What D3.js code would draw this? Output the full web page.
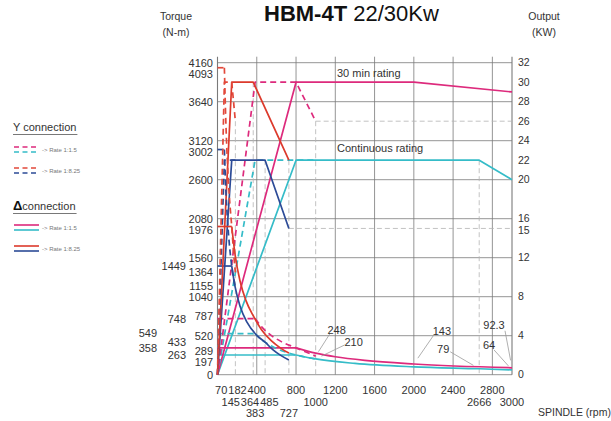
<!DOCTYPE html>
<html>
<head>
<meta charset="utf-8">
<script src="https://cdn.jsdelivr.net/npm/d3@7"></script>
<style>
  html, body { margin: 0; padding: 0; background: #fff; }
  svg { display: block; font-family: "Liberation Sans", Arial, sans-serif; }
</style>
</head>
<body>
<svg id="chart" width="611" height="421"></svg>
<script>
// ---- axis values ----
const rpmGrid = [0, 400, 800, 1200, 1600, 2000, 2400, 2800, 3000];
const torqueGrid = [0, 520, 1040, 1560, 2080, 2600, 3120, 3640, 4160];
const torqueLabels = [4160, 4093, 3640, 3120, 3002, 2600, 2080, 1976, 1560, 1364, 1155, 1040, 787, 520, 289, 197, 0];
const torqueLabelsInner = [1449, 748, 433, 263];
const torqueLabelsOuter = [549, 358];
const powerLabels = [32, 30, 28, 26, 24, 22, 20, 16, 15, 12, 8, 4, 0];
const rpmLabelsRow1 = [70, 182, 400, 800, 1200, 1600, 2000, 2400, 2800];
const rpmLabelsRow2 = [145, 364, 485, 1000, 2666, 3000];
const rpmLabelsRow3 = [383, 727];

// ---- output power (kW) vs spindle speed (rpm) ----
const pDelta15_30 = [[0, 0], [800, 30], [2000, 30], [3000, 29]];
const pDelta15_S1 = [[0, 0], [800, 22], [2666, 22], [3000, 20]];
const pY15_30 = [[0, 0], [383, 30], [800, 30], [1000, 26]];
const pY15_S1 = [[0, 0], [383, 22], [1000, 22]];
const pDelta825_30 = [[0, 0], [145, 30], [364, 30], [727, 22]];
const pDelta825_S1 = [[0, 0], [145, 22], [485, 22], [727, 15]];
const pY825_30 = [[0, 0], [70, 30], [145, 30], [182, 26]];
const pY825_S1 = [[0, 0], [70, 22], [182, 22]];

// ---- torque (N-m) vs spindle speed (rpm) ----
const tDelta15_30 = [[0, 358], [800, 358], [1000, 287], [1200, 239], [1500, 191], [2000, 143], [3000, 92.3]];
const tDelta15_S1 = [[0, 263], [800, 263], [1000, 210], [1400, 150], [2000, 105], [2666, 79], [3000, 64]];
const tY15_30 = [[0, 748], [383, 748], [450, 637], [550, 521], [650, 441], [800, 358], [1000, 248]];
const tY15_S1 = [[0, 549], [383, 549], [450, 467], [550, 382], [700, 300], [850, 247], [1000, 210]];
const tDelta825_30 = [[0, 1976], [145, 1976], [180, 1592], [230, 1246], [290, 988], [364, 787], [450, 596], [550, 450], [650, 348], [727, 289]];
const tDelta825_S1 = [[0, 1449], [145, 1449], [180, 1167], [230, 913], [300, 700], [400, 525], [485, 433], [560, 338], [640, 261], [727, 197]];
const tY825_30 = [[0, 4093], [70, 4093], [85, 3370], [100, 2865], [120, 2387], [145, 1976], [165, 1611], [182, 1364]];
const tY825_S1 = [[0, 3002], [70, 3002], [85, 2472], [100, 2101], [125, 1681], [150, 1401], [182, 1155]];

// reference (dashed) lines: [rpm, kW] verticals, [kW, from rpm] horizontals
const refVertical = [[182, 26], [364, 30], [485, 22], [727, 22], [1000, 26], [2666, 22]];
const refHorizontal = [[26, 1000], [15, 727]];

// value call-outs on the torque curves
const callouts = [
  { text: "248", rpm: 1000, torque: 248 },
  { text: "210", rpm: 1000, torque: 210 },
  { text: "143", rpm: 2000, torque: 143 },
  { text: "79", rpm: 2666, torque: 79 },
  { text: "92.3", rpm: 3000, torque: 92.3 },
  { text: "64", rpm: 3000, torque: 64 }
];

// ---- colours ----
const C = {
  magenta: "#dd2a7c",
  cyan: "#35bcc8",
  red: "#dc3a2c",
  redDash: "#e2483a",
  blue: "#2c4b97",
  grid: "#7a7a7a",
  ref: "#b4b4b4",
  text: "#333"
};

const series = [
  { power: pDelta15_S1, torque: tDelta15_S1, color: C.cyan, dashed: false },
  { power: pDelta15_30, torque: tDelta15_30, color: C.magenta, dashed: false },
  { power: pY15_S1, torque: tY15_S1, color: C.cyan, dashed: true },
  { power: pY15_30, torque: tY15_30, color: C.magenta, dashed: true },
  { power: pDelta825_S1, torque: tDelta825_S1, color: C.blue, dashed: false },
  { power: pDelta825_30, torque: tDelta825_30, color: C.red, dashed: false },
  { power: pY825_S1, torque: tY825_S1, color: C.blue, dashed: true },
  { power: pY825_30, torque: tY825_30, color: C.redDash, dashed: true }
];

const svg = d3.select("#chart");

// ---- scales ----
const x = d3.scaleLinear().domain([0, 3000]).range([217.5, 512]);
const yT = d3.scaleLinear().domain([0, 4160]).range([374.7, 62.7]);
const yP = d3.scaleLinear().domain([0, 32]).range([374.7, 62.7]);

// ---- title and axis captions ----
const title = svg.append("text").attr("x", 264).attr("y", 21)
  .attr("font-size", 22).attr("fill", "#111");
title.append("tspan").attr("font-weight", "bold").text("HBM-4T");
title.append("tspan").text(" 22/30Kw");

function caption(cx, lines) {
  lines.forEach((t, i) => {
    svg.append("text").attr("x", cx).attr("y", 20 + i * 16)
      .attr("text-anchor", "middle").attr("font-size", 10.5).attr("fill", C.text).text(t);
  });
}
caption(176, ["Torque", "(N-m)"]);
caption(544, ["Output", "(KW)"]);

svg.append("text").attr("x", 538).attr("y", 416).attr("font-size", 10.5)
  .attr("fill", C.text).text("SPINDLE (rpm)");

// ---- grid ----
const grid = svg.append("g");
grid.selectAll("line.h").data(torqueGrid).join("line")
  .attr("x1", x(0)).attr("x2", x(3000))
  .attr("y1", d => yT(d)).attr("y2", d => yT(d))
  .attr("stroke", C.grid).attr("stroke-width", 0.8);
grid.selectAll("line.v").data(rpmGrid).join("line")
  .attr("x1", d => x(d)).attr("x2", d => x(d))
  .attr("y1", yT(4160) - 6).attr("y2", yT(0))
  .attr("stroke", C.grid).attr("stroke-width", d => (d === 0 || d === 3000) ? 1.1 : 0.8);

const ref = svg.append("g").attr("stroke", C.ref).attr("stroke-width", 0.8)
  .attr("stroke-dasharray", "5,3").attr("fill", "none");
ref.selectAll("line.rv").data(refVertical).join("line")
  .attr("x1", d => x(d[0])).attr("x2", d => x(d[0]))
  .attr("y1", d => yP(d[1])).attr("y2", yT(0));
ref.selectAll("line.rh").data(refHorizontal).join("line")
  .attr("x1", d => x(d[1])).attr("x2", x(3000))
  .attr("y1", d => yP(d[0])).attr("y2", d => yP(d[0]));

// ---- curves ----
const powerLine = d3.line().x(d => x(d[0])).y(d => yP(d[1]));
const flatLine = d3.line().x(d => x(d[0])).y(d => yT(d[1]));
const torqueCurve = d3.line().x(d => x(d[0])).y(d => yT(d[1])).curve(d3.curveMonotoneX);

const curves = svg.append("g").attr("fill", "none").attr("stroke-width", 1.7)
  .attr("stroke-linejoin", "round");
series.forEach(s => {
  const dash = s.dashed ? "6,4" : null;
  curves.append("path").attr("d", powerLine(s.power))
    .attr("stroke", s.color).attr("stroke-dasharray", dash);
  curves.append("path").attr("d", flatLine(s.torque.slice(0, 2)))
    .attr("stroke", s.color).attr("stroke-dasharray", dash);
  curves.append("path").attr("d", torqueCurve(s.torque.slice(1)))
    .attr("stroke", s.color).attr("stroke-dasharray", dash);
});

// ---- label de-overlap helper (fixed items stay put) ----
function relax(items, gapFn) {
  items.sort((a, b) => a.pos - b.pos);
  for (let it = 0; it < 80; it++) {
    for (let i = 0; i < items.length - 1; i++) {
      const a = items[i], b = items[i + 1];
      const need = gapFn(a, b);
      const over = need - (b.pos - a.pos);
      if (over > 0) {
        if (a.fixed && !b.fixed) b.pos += over;
        else if (!a.fixed && b.fixed) a.pos -= over;
        else if (!a.fixed && !b.fixed) { a.pos -= over / 2; b.pos += over / 2; }
      }
    }
  }
  return items;
}

// ---- left torque labels ----
const tItems = relax(torqueLabels.map(v => ({ v, pos: yT(v), fixed: v % 520 === 0 })), () => 11);
svg.append("g").selectAll("text").data(tItems).join("text")
  .attr("x", 213).attr("y", d => d.pos).attr("dy", "0.36em")
  .attr("text-anchor", "end").attr("font-size", 11).attr("fill", C.text)
  .text(d => d.v);

svg.append("g").selectAll("text").data(torqueLabelsInner).join("text")
  .attr("x", 186).attr("y", d => yT(d)).attr("dy", "0.36em")
  .attr("text-anchor", "end").attr("font-size", 11).attr("fill", C.text).text(d => d);
svg.append("g").selectAll("text").data(torqueLabelsOuter).join("text")
  .attr("x", 157).attr("y", d => yT(d)).attr("dy", "0.36em")
  .attr("text-anchor", "end").attr("font-size", 11).attr("fill", C.text).text(d => d);

// ---- right power labels ----
const pItems = relax(powerLabels.map(v => ({ v, pos: yP(v), fixed: v % 4 === 0 })), () => 11.5);
svg.append("g").selectAll("text").data(pItems).join("text")
  .attr("x", 518).attr("y", d => d.pos).attr("dy", "0.36em")
  .attr("font-size", 10.5).attr("fill", C.text).text(d => d.v);

// ---- rpm labels in three rows ----
function rpmRow(values, baseline) {
  const g = svg.append("g");
  const items = values.map(v => ({ v, pos: x(v), fixed: v % 400 === 0 && v >= 400, w: String(v).length * 6.1 }));
  relax(items, (a, b) => (a.w + b.w) / 2 + 1);
  g.selectAll("text").data(items).join("text")
    .attr("x", d => d.pos).attr("y", baseline)
    .attr("text-anchor", "middle").attr("font-size", 11).attr("fill", C.text).text(d => d.v);
}
rpmRow(rpmLabelsRow1, 394);
rpmRow(rpmLabelsRow2, 406);
rpmRow(rpmLabelsRow3, 417);

// ---- rating captions ----
svg.append("text").attr("x", 337).attr("y", 77).attr("font-size", 11).attr("fill", C.text).text("30 min rating");
svg.append("text").attr("x", 337).attr("y", 152).attr("font-size", 11).attr("fill", C.text).text("Continuous rating");

// ---- call-outs with leader lines ----
const calloutLayout = {
  "248": { dx: 21, dy: -26, lx: -7, ly: 4 },
  "210": { dx: 38, dy: -17, lx: -9, ly: 3 },
  "143": { dx: 28, dy: -33, lx: -8, ly: 4 },
  "79": { dx: -36, dy: -20, lx: 7, ly: 3 },
  "92.3": { dx: -18, dy: -43, lx: 11, ly: 6 },
  "64": { dx: -23, dy: -25, lx: 5, ly: 5 }
};
const co = svg.append("g");
callouts.forEach(c => {
  const L = calloutLayout[c.text];
  const px = x(c.rpm), py = yT(c.torque);
  const cx = px + L.dx, cy = py + L.dy;
  const sx = cx + L.lx, sy = cy + L.ly;
  const ex = px + (sx - px) * 0.2, ey = py + (sy - py) * 0.2;
  co.append("line").attr("x1", sx).attr("y1", sy).attr("x2", ex).attr("y2", ey)
    .attr("stroke", "#9a9a9a").attr("stroke-width", 0.8);
  co.append("text").attr("x", cx).attr("y", cy).attr("dy", "0.36em")
    .attr("text-anchor", "middle").attr("font-size", 11).attr("fill", C.text).text(c.text);
});

// ---- legend ----
const lg = svg.append("g");
function heading(y, build) {
  const t = lg.append("text").attr("x", 13).attr("y", y).attr("font-size", 11).attr("fill", C.text);
  build(t);
  const w = t.node().getComputedTextLength();
  lg.append("line").attr("x1", 13).attr("x2", 13 + w + 1).attr("y1", y + 3.5).attr("y2", y + 3.5)
    .attr("stroke", "#555").attr("stroke-width", 0.8);
}
heading(131, t => t.text("Y connection"));
heading(210, t => {
  t.append("tspan").attr("font-weight", "bold").attr("font-size", 13).attr("fill", "#111").text("\u0394");
  t.append("tspan").text("connection");
});

function legendPair(y, c1, c2, dashed, label) {
  const dash = dashed ? "5,3.5" : null;
  lg.append("line").attr("x1", 14).attr("x2", 39).attr("y1", y).attr("y2", y)
    .attr("stroke", c1).attr("stroke-width", 1.6).attr("stroke-dasharray", dash);
  lg.append("line").attr("x1", 14).attr("x2", 39).attr("y1", y + 5).attr("y2", y + 5)
    .attr("stroke", c2).attr("stroke-width", 1.6).attr("stroke-dasharray", dash);
  lg.append("text").attr("x", 42).attr("y", y + 4.5).attr("font-size", 6)
    .attr("fill", "#777").text(label);
}
legendPair(147, C.magenta, C.cyan, true, "-> Rate 1:1.5");
legendPair(168, C.redDash, C.blue, true, "-> Rate 1:8.25");
legendPair(225, C.magenta, C.cyan, false, "-> Rate 1:1.5");
legendPair(246, C.red, C.blue, false, "-> Rate 1:8.25");
</script>
</body>
</html>
